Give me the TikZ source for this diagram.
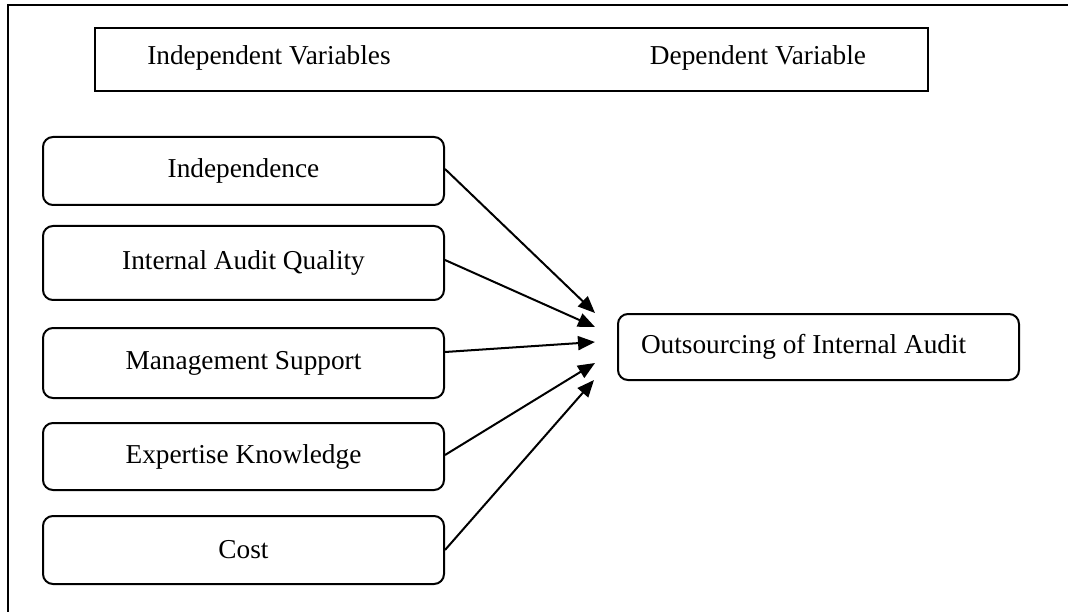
\documentclass[tikz,border=0pt]{standalone}
\usepackage{fontspec}
\setmainfont{Liberation Serif}
\usetikzlibrary{arrows.meta}
\begin{document}
\begin{tikzpicture}[x=1pt,y=-1pt,
  lw/.style={line width=2pt},
  varbox/.style={draw,lw,rounded corners=10pt,minimum width=401pt,inner sep=0pt},
  hdrbox/.style={draw,lw,minimum width=833pt,minimum height=63pt,inner sep=0pt},
  lbl/.style={inner sep=0pt},
  link/.style={lw,-{Triangle[length=17pt,width=14pt]}}]
\useasboundingbox (0,0) rectangle (1068,612);
\fontsize{27.3}{33}\selectfont
% outer frame (only left and top edges visible)
\coordinate (fbl) at (8,640);
\coordinate (ftl) at (8,5);
\coordinate (ftr) at (1080,5);
\draw[lw] (fbl) -- (ftl) -- (ftr);
% header box
\node[hdrbox] (hdr) at (511.5,59.5) {};
\node[lbl] (iv) at (269,58) {Independent Variables};
\node[lbl] (dv) at (758,58) {Dependent Variable};
% independent variables
\node[varbox,minimum height=68pt] (b1) at (243.5,171) {Independence};
\node[varbox,minimum height=74pt] (b2) at (243.5,263) {Internal Audit Quality};
\node[varbox,minimum height=70pt] (b3) at (243.5,363) {Management Support};
\node[varbox,minimum height=67pt] (b4) at (243.5,456.5) {Expertise Knowledge};
\node[varbox,minimum height=68pt] (b5) at (243.5,550) {Cost};
% dependent variable
\node[draw,lw,rounded corners=10pt,minimum height=66pt,text width=355pt,inner xsep=23pt,inner ysep=0pt,align=flush left] (out) at (818.5,347) {Outsourcing of Internal Audit};
% arrow tips
\coordinate (t1) at (595,313);
\coordinate (t2) at (595,327);
\coordinate (t3) at (595,342);
\coordinate (t4) at (595,363);
\coordinate (t5) at (594,380);
\draw[link] ([yshift=2pt]b1.east) -- (t1);
\draw[link] ([yshift=3pt]b2.east) -- (t2);
\draw[link] ([yshift=11pt]b3.east) -- (t3);
\draw[link] ([yshift=1.5pt]b4.east) -- (t4);
\draw[link] (b5.east) -- (t5);
\end{tikzpicture}
\end{document}
